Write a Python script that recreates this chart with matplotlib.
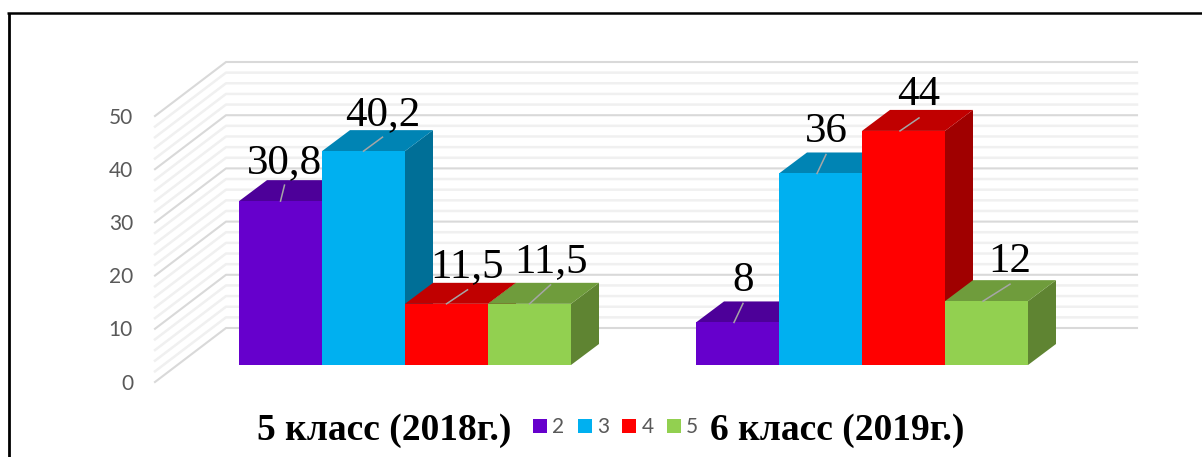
import matplotlib
matplotlib.use("Agg")
import matplotlib.pyplot as plt
from matplotlib.patches import Polygon, Rectangle

groups = ["5 класс (2018г.)", "6 класс (2019г.)"]
series_names = ["2", "3", "4", "5"]
values_5 = [30.8, 40.2, 11.5, 11.5]
values_6 = [8, 36, 44, 12]
label_5 = ["30,8", "40,2", "11,5", "11,5"]
label_6 = ["8", "36", "44", "12"]
ticks = [0, 10, 20, 30, 40, 50]
minor_ticks = [2, 4, 6, 8, 12, 14, 16, 18, 22, 24, 26, 28, 32, 34, 36, 38, 42, 44, 46, 48]

front = ["#6600CC", "#00B0F0", "#FF0000", "#92D050"]
top = ["#4D0099", "#0084B4", "#C00000", "#6F9C3C"]
side = ["#3D007A", "#006F97", "#A00000", "#5F8432"]

# picture is laid out in pixels, y goes down
W, H = 1202, 457
PX = 5.32      # pixels per one value unit
FLOOR = 365    # front edge of the bars
DX, DY = 28, 21
BAR_W = 83
GROUP_X = [239, 696]

fig = plt.figure(figsize=(W / 100, H / 100), dpi=100)
ax = fig.add_axes([0, 0, 1, 1])
ax.set_xlim(0, W)
ax.set_ylim(H, 0)
ax.axis("off")

# black frame, open on the right side
ax.plot([8.5, 8.5], [H, 13], color="black", lw=2, solid_capstyle="butt")
ax.plot([7, W], [13, 13], color="black", lw=1.8, solid_capstyle="butt")


def wall_y(v):
    return 328 - PX * v


def side_y(v):
    return 382 - PX * v


# walls
for v in minor_ticks:
    ax.plot([155, 226, 1137], [side_y(v), wall_y(v), wall_y(v)], color="#F0F0F0", lw=1.8, zorder=1)
for v in ticks:
    ax.plot([155, 226, 1137], [side_y(v), wall_y(v), wall_y(v)], color="#D9D9D9", lw=1.5, zorder=2)
    ax.text(133, side_y(v) + 1.5, str(v), ha="right", va="center", fontsize=15, color="#595959", family="Lato")


# bars
def draw_group(x0, vals):
    for i, v in enumerate(vals):
        x = x0 + i * BAR_W
        y = FLOOR - PX * v
        z = 5 + i
        ax.add_patch(Polygon([(x + BAR_W, FLOOR), (x + BAR_W + DX, FLOOR - DY), (x + BAR_W + DX, y - DY), (x + BAR_W, y)],
                             fc=side[i], ec="none", zorder=z))
        ax.add_patch(Polygon([(x, y), (x + DX, y - DY), (x + BAR_W + DX, y - DY), (x + BAR_W, y)],
                             fc=top[i], ec="none", zorder=z))
        ax.add_patch(Rectangle((x, y), BAR_W, PX * v, fc=front[i], ec="none", zorder=z))


draw_group(GROUP_X[0], values_5)
draw_group(GROUP_X[1], values_6)


# data labels with their small leader lines
def draw_labels(x0, vals, labels, start, offs):
    for i, v in enumerate(vals):
        cx = x0 + i * BAR_W + BAR_W / 2 + start
        y = FLOOR - PX * v
        lx, ly = offs[i]
        ax.plot([cx, cx + lx], [y, y - ly], color="#A6A6A6", lw=1.1, zorder=20)
        ax.text(cx + lx, y - ly - 12.5, labels[i], ha="center", va="baseline", fontsize=31,
                family="Liberation Serif", color="black", zorder=21)


draw_labels(GROUP_X[0], values_5, label_5, 0, [(4, 16), (19, 14), (21, 14), (21, 19)])
draw_labels(GROUP_X[1], values_6, label_6, -3.5, [(9, 19), (9, 19), (19, 13), (27, 17)])

# bottom category names
ax.text(384, 431, groups[0], ha="center", va="center", fontsize=27, fontweight="bold",
        family="Liberation Serif", color="black")
ax.text(837, 431, groups[1], ha="center", va="center", fontsize=27, fontweight="bold",
        family="Liberation Serif", color="black")

# legend
for i, name in enumerate(series_names):
    x = 533 + i * 44.7
    ax.add_patch(Rectangle((x, 419), 14, 14, fc=front[i], ec="none"))
    ax.text(x + 19, 427, name, ha="left", va="center", fontsize=15, color="#595959", family="Lato")

fig.savefig("out.png", dpi=100)
